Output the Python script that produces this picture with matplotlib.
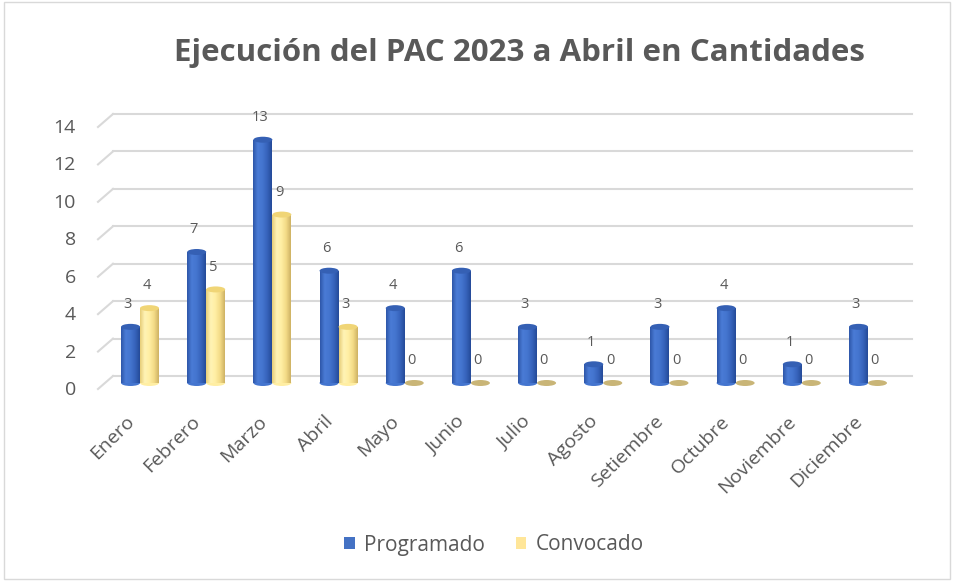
import numpy as np
import matplotlib
matplotlib.use("Agg")
import matplotlib.pyplot as plt
from matplotlib.patches import Ellipse, Patch, Rectangle
from matplotlib.colors import LinearSegmentedColormap
from matplotlib.transforms import ScaledTranslation, blended_transform_factory
from matplotlib.lines import Line2D

# ---- data ----
months = ["Enero", "Febrero", "Marzo", "Abril", "Mayo", "Junio", "Julio",
          "Agosto", "Setiembre", "Octubre", "Noviembre", "Diciembre"]
programado = [3, 7, 13, 6, 4, 6, 3, 1, 3, 4, 1, 3]
convocado = [4, 5, 9, 3, 0, 0, 0, 0, 0, 0, 0, 0]
yticks = [0, 2, 4, 6, 8, 10, 12, 14]
title = "Ejecución del PAC 2023 a Abril en Cantidades"
series_names = ["Programado", "Convocado"]

plt.rcParams['font.family'] = ['Open Sans', 'DejaVu Sans']
TXT = "#595959"

W, H, DPI = 958, 582, 100
fig = plt.figure(figsize=(W / DPI, H / DPI), dpi=DPI)
fig.patch.set_facecolor("white")

# border
fig.add_artist(Rectangle((0.004, 0.006), 0.988, 0.99, transform=fig.transFigure,
                         fill=False, edgecolor="#d9d9d9", linewidth=1.0))

ax = fig.add_axes([98 / W, (H - 383) / H, 814 / W, 262 / H])
ax.set_facecolor("none")
for s in ax.spines.values():
    s.set_visible(False)

n = len(months)
x = np.arange(n)
bw = 0.287
ax.set_xlim(-0.635, 11.665)
ax.set_ylim(0, 14)

blue_cmap = LinearSegmentedColormap.from_list(
    "b", ["#2d56a8", "#4a7bd6", "#4475cf", "#3763bb", "#244a98"])
yel_cmap = LinearSegmentedColormap.from_list(
    "y", ["#e6cc77", "#fff3b5", "#ffeea3", "#f3da86", "#cdb163"])
grad = np.linspace(0, 1, 256).reshape(1, -1)

ell_h = 0.32  # data units for cylinder caps

def draw_cyl(xc, v, cmap, top_col, zero_col):
    x0 = xc - bw / 2
    if v <= 0:
        e = Ellipse((xc, 0), bw, ell_h, facecolor=zero_col, edgecolor="none",
                    zorder=3, clip_on=False)
        ax.add_patch(e)
        return
    eb = Ellipse((xc, 0), bw, ell_h, facecolor=cmap(0.5), edgecolor="none",
                 zorder=2, clip_on=False)
    ax.add_patch(eb)
    rect = Rectangle((x0, 0), bw, v, facecolor=cmap(0.5), edgecolor="none", zorder=3)
    ax.add_patch(rect)
    im = ax.imshow(grad, extent=[x0, x0 + bw, 0, v], cmap=cmap, aspect="auto",
                   zorder=3.1, interpolation="bilinear")
    im.set_clip_path(rect)
    et = Ellipse((xc, v), bw, ell_h, facecolor=top_col, edgecolor="none", zorder=3.2,
                 clip_on=False)
    ax.add_patch(et)

for i in range(n):
    xb = x[i] - bw / 2
    xy = x[i] + bw / 2
    draw_cyl(xb, programado[i], blue_cmap, "#3560b4", "#3560b4")
    draw_cyl(xy, convocado[i], yel_cmap, "#f0d576", "#c9b577")
    for xc, v in ((xb, programado[i]), (xy, convocado[i])):
        ax.annotate(str(v), (xc, v), xytext=(-2, 16), textcoords="offset points",
                    ha="center", va="center", fontsize=10.5, color=TXT, zorder=5)

ax.set_xlim(-0.635, 11.665)
ax.set_ylim(0, 14)

# back-wall gridlines with perspective stubs
bt = blended_transform_factory(ax.transAxes, ax.transData)
up = ScaledTranslation(0, 7 / DPI, fig.dpi_scale_trans)
stub = 15 / 814
for v in yticks:
    ax.add_line(Line2D([stub, 1.0], [v, v], transform=bt + up, color="#d9d9d9",
                       linewidth=1.5, zorder=1, clip_on=False))
fig.canvas.draw()
inv = fig.transFigure.inverted()
for v in yticks:
    p0 = bt.transform((0, v)) + np.array([0, -6])
    p1 = bt.transform((stub, v)) + np.array([0, 7])
    q0, q1 = inv.transform(p0), inv.transform(p1)
    fig.add_artist(Line2D([q0[0], q1[0]], [q0[1], q1[1]], transform=fig.transFigure,
                          color="#d9d9d9", linewidth=1.5, zorder=1))

ax.set_yticks(yticks)
ax.set_yticklabels([str(v) for v in yticks], fontsize=14, color=TXT)
ax.tick_params(axis="y", length=0, pad=16)
for lab in ax.get_yticklabels():
    lab.set_transform(lab.get_transform() + ScaledTranslation(0, -5 / DPI, fig.dpi_scale_trans))

ax.set_xticks(x)
ax.set_xticklabels(months, rotation=45, ha="right", va="top", rotation_mode="anchor",
                   fontsize=14, color=TXT)
ax.tick_params(axis="x", length=0, pad=21)
for lab in ax.get_xticklabels():
    lab.set_transform(lab.get_transform() + ScaledTranslation(-15 / DPI, 0, fig.dpi_scale_trans))

fig.text(519 / W, 1 - 53 / H, title, ha="center", va="center", fontsize=22.5,
         fontweight="bold", color=TXT)

handles = [Patch(facecolor="#4472C4", edgecolor="none"),
           Patch(facecolor="#FFE699", edgecolor="none")]
fig.legend(handles, series_names, loc="center", bbox_to_anchor=(494 / W, 1 - 545 / H),
           ncol=2, frameon=False, fontsize=15, handlelength=0.5, handleheight=0.5,
           handletextpad=0.45, columnspacing=1.5, labelcolor=TXT)

fig.savefig("out.png", dpi=DPI, facecolor="white")
